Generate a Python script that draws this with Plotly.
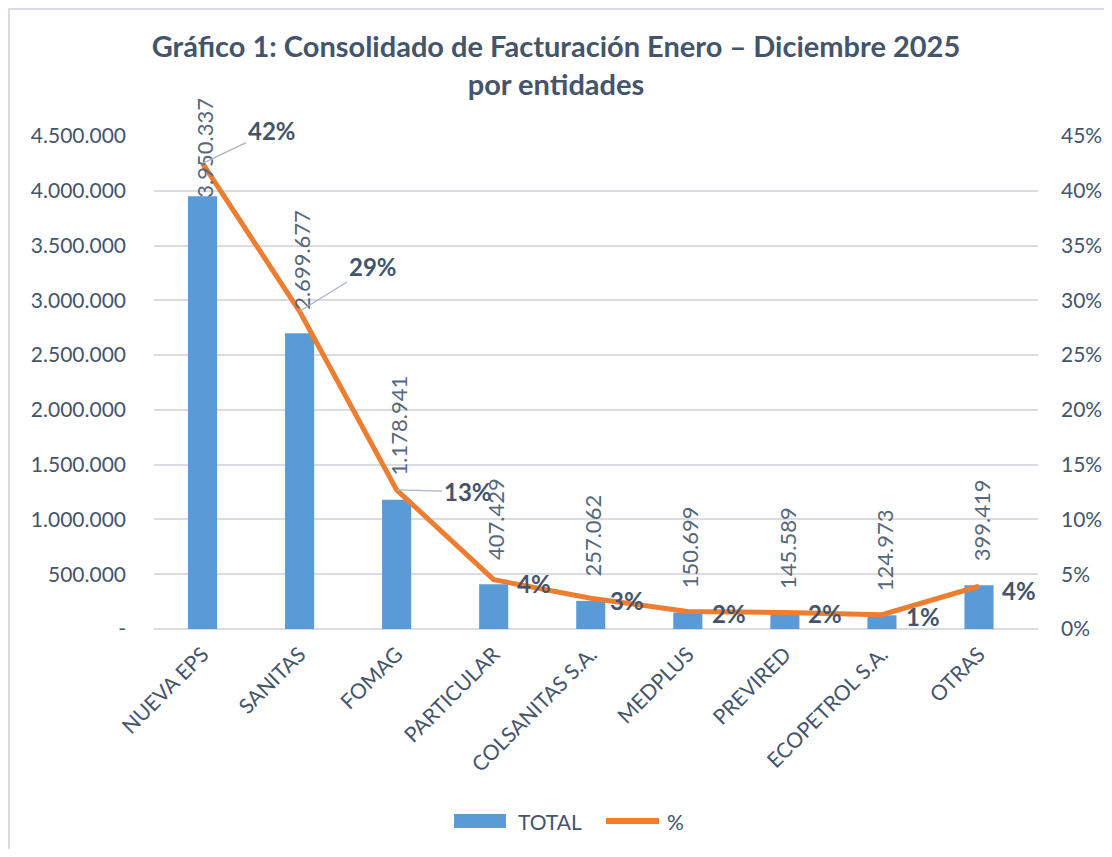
import plotly.graph_objects as go

categories = ["NUEVA EPS", "SANITAS", "FOMAG", "PARTICULAR", "COLSANITAS S.A.",
              "MEDPLUS", "PREVIRED", "ECOPETROL S.A.", "OTRAS"]
totals = [3950337, 2699677, 1178941, 407429, 257062, 150699, 145589, 124973, 399419]
total_labels = ["3.950.337", "2.699.677", "1.178.941", "407.429", "257.062",
                "150.699", "145.589", "124.973", "399.419"]
percents = [42.5, 29.0, 12.7, 4.5, 2.8, 1.6, 1.5, 1.3, 3.9]
pct_labels = ["42%", "29%", "13%", "4%", "3%", "2%", "2%", "1%", "4%"]

left_ticks = [0, 500000, 1000000, 1500000, 2000000, 2500000, 3000000, 3500000, 4000000, 4500000]
left_ticklabels = ["-", "500.000", "1.000.000", "1.500.000", "2.000.000", "2.500.000",
                   "3.000.000", "3.500.000", "4.000.000", "4.500.000"]
right_ticks = [0, 5, 10, 15, 20, 25, 30, 35, 40, 45]
right_ticklabels = ["0%", "5%", "10%", "15%", "20%", "25%", "30%", "35%", "40%", "45%"]

# percent label offsets (pixels): (ax, ay, use_leader)
pct_offsets = [(69, -33, True), (73, -45, True), (71, 2, True), (40, 4, False),
               (36, 2, False), (41, 2, False), (40, 1, False), (41, 2, False),
               (40, 4, False)]
# bar label vertical gaps (pixels)
bar_label_gap = [-4, 21, 22, 22, 22, 22, 22, 22, 22]

TXT = "#44546A"
FONT = "Lato"

W, H = 1096, 841
L, R, T, B = 146, 66, 128, 220
PW, PH = W - L - R, H - T - B


def px(x):
    return (x - L) / PW


def py(y):
    return (H - B - y) / PH


fig = go.Figure()
fig.add_trace(go.Bar(
    x=categories, y=totals, name="TOTAL",
    marker=dict(color="#5B9BD5", line=dict(width=0)),
    width=0.3, showlegend=False,
))
fig.add_trace(go.Scatter(
    x=categories, y=percents, name="%", yaxis="y2", mode="lines",
    line=dict(color="#ED7D31", width=5), showlegend=False,
))

for cat, v, lab, gap in zip(categories, totals, total_labels, bar_label_gap):
    fig.add_annotation(x=cat, y=v, xref="x", yref="y", text=lab, textangle=-90,
                       showarrow=False, xanchor="center", yanchor="bottom",
                       yshift=gap, xshift=2,
                       font=dict(family=FONT, size=22, color="#56677A"))

for cat, p, lab, (ax, ay, lead) in zip(categories, percents, pct_labels, pct_offsets):
    if lead:
        fig.add_annotation(x=cat, y=p, xref="x", yref="y2", text=f"<b>{lab}</b>",
                           showarrow=True, ax=ax, ay=ay, arrowhead=0, arrowwidth=1.2,
                           arrowcolor="#A6B4C4", standoff=0,
                           font=dict(family=FONT, size=24, color=TXT))
    else:
        fig.add_annotation(x=cat, y=p, xref="x", yref="y2", text=f"<b>{lab}</b>",
                           showarrow=False, xshift=ax, yshift=-ay,
                           font=dict(family=FONT, size=24, color=TXT))

# custom legend
fig.add_annotation(x=px(508), y=py(813), xref="paper", yref="paper", text="TOTAL",
                   showarrow=False, xanchor="left", yanchor="middle",
                   font=dict(family=FONT, size=21, color=TXT))
fig.add_annotation(x=px(657), y=py(813), xref="paper", yref="paper", text="%",
                   showarrow=False, xanchor="left", yanchor="middle",
                   font=dict(family=FONT, size=21, color=TXT))

fig.update_layout(
    width=W, height=H,
    paper_bgcolor="white", plot_bgcolor="white",
    separators=",.",
    margin=dict(l=L, r=R, t=T, b=B, autoexpand=False),
    title=dict(text="<b>Gráfico 1: Consolidado de Facturación Enero – Diciembre 2025<br>por entidades</b>",
               x=0.5, xanchor="center", y=0.9415, yanchor="top",
               font=dict(family=FONT, size=29, color=TXT)),
    font=dict(family=FONT, color=TXT, size=20),
    xaxis=dict(tickangle=-45, tickfont=dict(family=FONT, size=21, color=TXT),
               showgrid=False, showline=False, ticks="", ticklabelstandoff=8,
               automargin=False),
    yaxis=dict(range=[0, 4500000], tickvals=left_ticks, ticktext=left_ticklabels,
               showgrid=True, gridcolor="#D9DDE3", gridwidth=2, zeroline=True,
               zerolinecolor="#D9DDE3", zerolinewidth=2, ticklabelstandoff=27,
               tickfont=dict(family=FONT, size=21, color=TXT), ticks="",
               automargin=False),
    yaxis2=dict(range=[0, 45], tickvals=right_ticks, ticktext=right_ticklabels,
                overlaying="y", side="right", showgrid=False, zeroline=False,
                ticklabelstandoff=22, ticks="", automargin=False,
                tickfont=dict(family=FONT, size=21, color=TXT)),
    shapes=[
        dict(type="rect", xref="paper", yref="paper",
             x0=px(1), x1=px(W + 5), y0=py(H + 5), y1=py(1),
             line=dict(color="#D9DDE3", width=2), layer="below"),
        dict(type="rect", xref="paper", yref="paper",
             x0=px(446), x1=px(498), y0=py(820), y1=py(806),
             fillcolor="#5B9BD5", line=dict(width=0)),
        dict(type="line", xref="paper", yref="paper",
             x0=px(598), x1=px(651), y0=py(813), y1=py(813),
             line=dict(color="#ED7D31", width=6)),
    ],
)

fig.write_html("out.html")
